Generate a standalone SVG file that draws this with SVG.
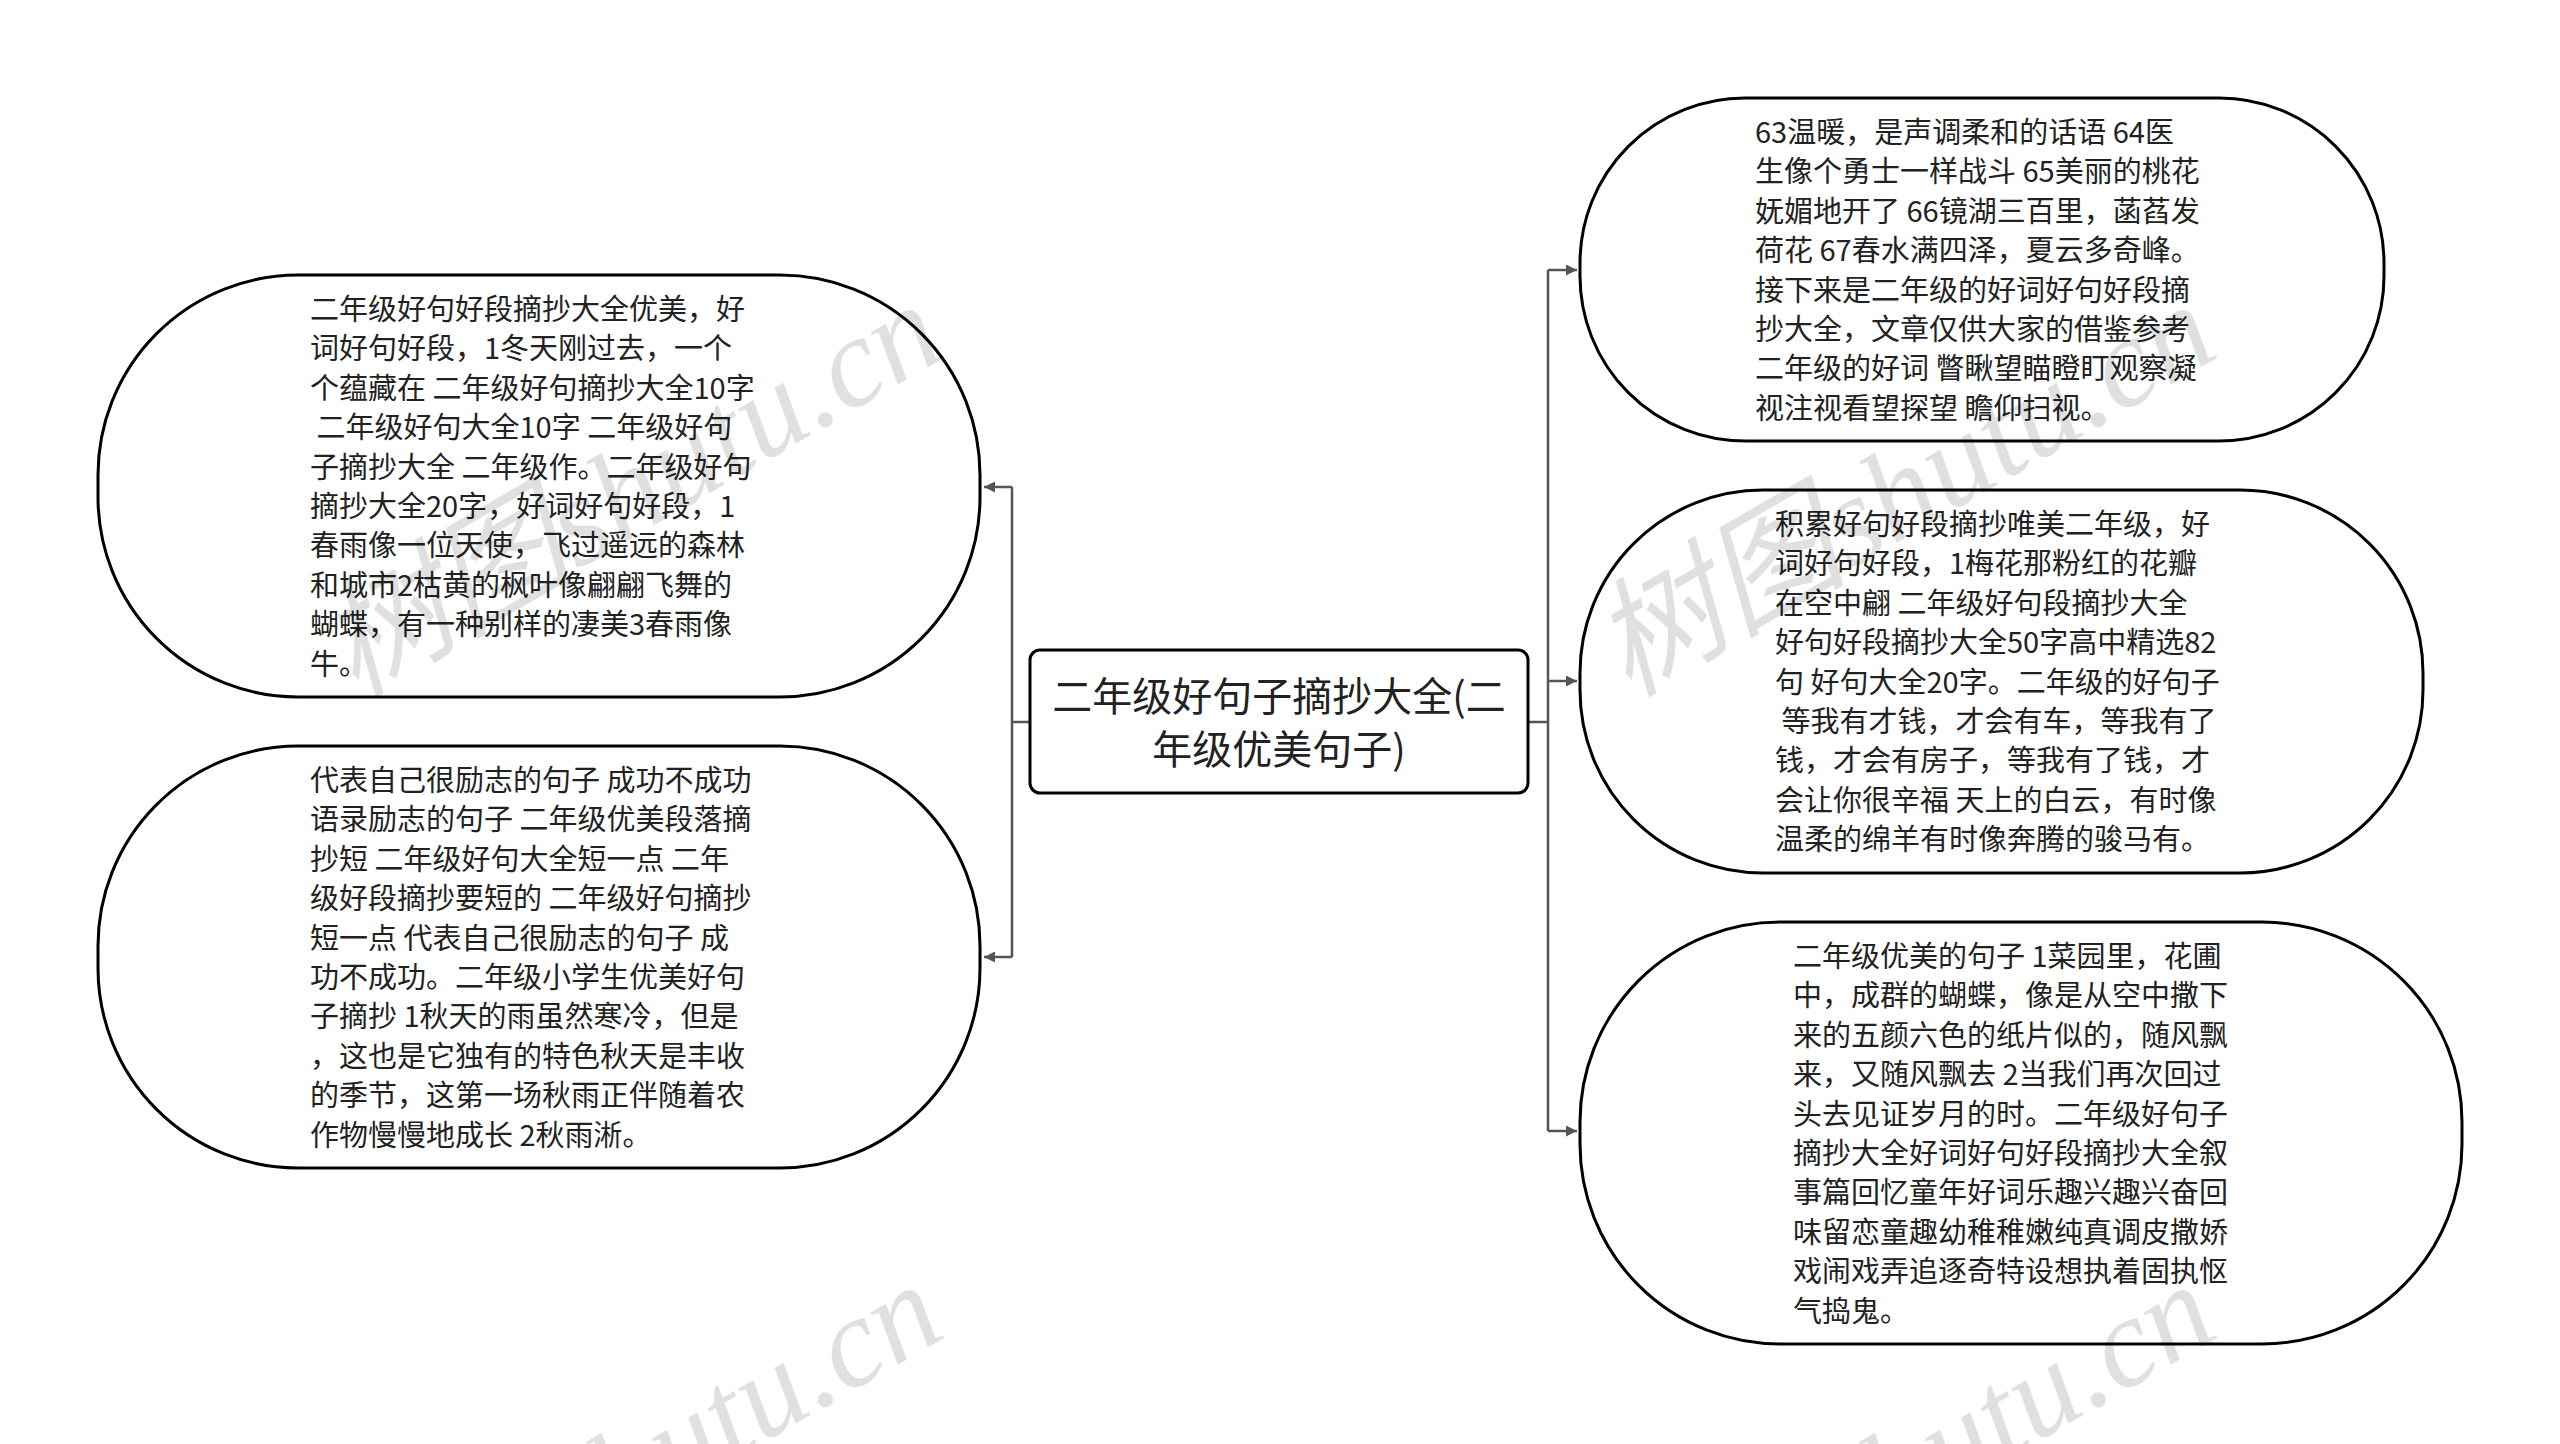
<svg xmlns="http://www.w3.org/2000/svg" width="2560" height="1444" viewBox="0 0 2560 1444">
<style>
.bg{fill:#ffffff}
.node{fill:#ffffff;stroke:#000000;stroke-width:3}
.t{font-family:"Noto Sans CJK SC","Noto Sans",sans-serif;font-size:29px;fill:#222222;white-space:pre}
.tc{font-family:"Noto Sans CJK SC","Noto Sans",sans-serif;font-size:40px;fill:#222222;text-anchor:middle}
.edge{fill:none;stroke:#555555;stroke-width:2.5}
.wm{font-family:"Liberation Serif","Noto Sans CJK SC",serif;font-size:128px;font-style:italic;fill:#000000;fill-opacity:0.12}
</style>
<defs>
<marker id="arr" viewBox="0 0 10 10" refX="10" refY="5" markerWidth="11" markerHeight="11" markerUnits="userSpaceOnUse" orient="auto">
<path d="M0,0 L10,5 L0,10 z" fill="#555555"/>
</marker>
</defs>
<rect class="bg" x="0" y="0" width="2560" height="1444"/>
<g id="connectors">
<path class="edge" d="M1030,722 H1012"/>
<path class="edge" d="M1012,487 V957"/>
<path class="edge" d="M1012,487 H984" marker-end="url(#arr)"/>
<path class="edge" d="M1012,957 H984" marker-end="url(#arr)"/>
<path class="edge" d="M1528,722 H1548"/>
<path class="edge" d="M1548,270 V1131"/>
<path class="edge" d="M1548,270 H1577" marker-end="url(#arr)"/>
<path class="edge" d="M1548,681 H1577" marker-end="url(#arr)"/>
<path class="edge" d="M1548,1131 H1577" marker-end="url(#arr)"/>
</g>
<g id="center">
<rect class="node" x="1030" y="650" width="498" height="143" rx="10" ry="10"/>
<text class="tc" x="1279" y="711">二年级好句子摘抄大全(二</text>
<text class="tc" x="1279" y="764">年级优美句子)</text>
</g>
<g id="left-top">
<rect class="node" x="98" y="275" width="882" height="422" rx="200" ry="200"/>
<text class="t">
<tspan x="310" y="320">二年级好句好段摘抄大全优美，好</tspan>
<tspan x="310" y="359.4">词好句好段，1冬天刚过去，一个</tspan>
<tspan x="310" y="398.8">个蕴藏在 二年级好句摘抄大全10字</tspan>
<tspan x="310" y="438.2"> 二年级好句大全10字 二年级好句</tspan>
<tspan x="310" y="477.6">子摘抄大全 二年级作。二年级好句</tspan>
<tspan x="310" y="517">摘抄大全20字，好词好句好段，1</tspan>
<tspan x="310" y="556.4">春雨像一位天使，飞过遥远的森林</tspan>
<tspan x="310" y="595.8">和城市2枯黄的枫叶像翩翩飞舞的</tspan>
<tspan x="310" y="635.2">蝴蝶，有一种别样的凄美3春雨像</tspan>
<tspan x="310" y="674.6">牛。</tspan>
</text>
</g>
<g id="left-bottom">
<rect class="node" x="98" y="746" width="882" height="422" rx="200" ry="200"/>
<text class="t">
<tspan x="310" y="791">代表自己很励志的句子 成功不成功</tspan>
<tspan x="310" y="830.4">语录励志的句子 二年级优美段落摘</tspan>
<tspan x="310" y="869.8">抄短 二年级好句大全短一点 二年</tspan>
<tspan x="310" y="909.2">级好段摘抄要短的 二年级好句摘抄</tspan>
<tspan x="310" y="948.6">短一点 代表自己很励志的句子 成</tspan>
<tspan x="310" y="988">功不成功。二年级小学生优美好句</tspan>
<tspan x="310" y="1027.4">子摘抄 1秋天的雨虽然寒冷，但是</tspan>
<tspan x="310" y="1066.8">，这也是它独有的特色秋天是丰收</tspan>
<tspan x="310" y="1106.2">的季节，这第一场秋雨正伴随着农</tspan>
<tspan x="310" y="1145.6">作物慢慢地成长 2秋雨淅。</tspan>
</text>
</g>
<g id="right-top">
<rect class="node" x="1580" y="98" width="804" height="343" rx="165" ry="165"/>
<text class="t">
<tspan x="1755" y="143">63温暖，是声调柔和的话语 64医</tspan>
<tspan x="1755" y="182.4">生像个勇士一样战斗 65美丽的桃花</tspan>
<tspan x="1755" y="221.8">妩媚地开了 66镜湖三百里，菡萏发</tspan>
<tspan x="1755" y="261.2">荷花 67春水满四泽，夏云多奇峰。</tspan>
<tspan x="1755" y="300.6">接下来是二年级的好词好句好段摘</tspan>
<tspan x="1755" y="340">抄大全，文章仅供大家的借鉴参考</tspan>
<tspan x="1755" y="379.4">二年级的好词 瞥瞅望瞄瞪盯观察凝</tspan>
<tspan x="1755" y="418.8">视注视看望探望 瞻仰扫视。</tspan>
</text>
</g>
<g id="right-middle">
<rect class="node" x="1580" y="490" width="843" height="383" rx="183" ry="183"/>
<text class="t">
<tspan x="1775" y="535">积累好句好段摘抄唯美二年级，好</tspan>
<tspan x="1775" y="574.4">词好句好段，1梅花那粉红的花瓣</tspan>
<tspan x="1775" y="613.8">在空中翩 二年级好句段摘抄大全</tspan>
<tspan x="1775" y="653.2">好句好段摘抄大全50字高中精选82</tspan>
<tspan x="1775" y="692.6">句 好句大全20字。二年级的好句子</tspan>
<tspan x="1775" y="732"> 等我有才钱，才会有车，等我有了</tspan>
<tspan x="1775" y="771.4">钱，才会有房子，等我有了钱，才</tspan>
<tspan x="1775" y="810.8">会让你很辛福 天上的白云，有时像</tspan>
<tspan x="1775" y="850.2">温柔的绵羊有时像奔腾的骏马有。</tspan>
</text>
</g>
<g id="right-bottom">
<rect class="node" x="1580" y="922" width="882" height="422" rx="200" ry="200"/>
<text class="t">
<tspan x="1793" y="967">二年级优美的句子 1菜园里，花圃</tspan>
<tspan x="1793" y="1006.4">中，成群的蝴蝶，像是从空中撒下</tspan>
<tspan x="1793" y="1045.8">来的五颜六色的纸片似的，随风飘</tspan>
<tspan x="1793" y="1085.2">来，又随风飘去 2当我们再次回过</tspan>
<tspan x="1793" y="1124.6">头去见证岁月的时。二年级好句子</tspan>
<tspan x="1793" y="1164">摘抄大全好词好句好段摘抄大全叙</tspan>
<tspan x="1793" y="1203.4">事篇回忆童年好词乐趣兴趣兴奋回</tspan>
<tspan x="1793" y="1242.8">味留恋童趣幼稚稚嫩纯真调皮撒娇</tspan>
<tspan x="1793" y="1282.2">戏闹戏弄追逐奇特设想执着固执怄</tspan>
<tspan x="1793" y="1321.6">气捣鬼。</tspan>
</text>
</g>
<g id="watermark">
<text class="wm" transform="translate(355,698) rotate(-30)">树图shutu.cn</text>
<text class="wm" transform="translate(1628,698) rotate(-30)">树图shutu.cn</text>
<text class="wm" transform="translate(355,1678) rotate(-30)">树图shutu.cn</text>
<text class="wm" transform="translate(1628,1678) rotate(-30)">树图shutu.cn</text>
</g>
</svg>
